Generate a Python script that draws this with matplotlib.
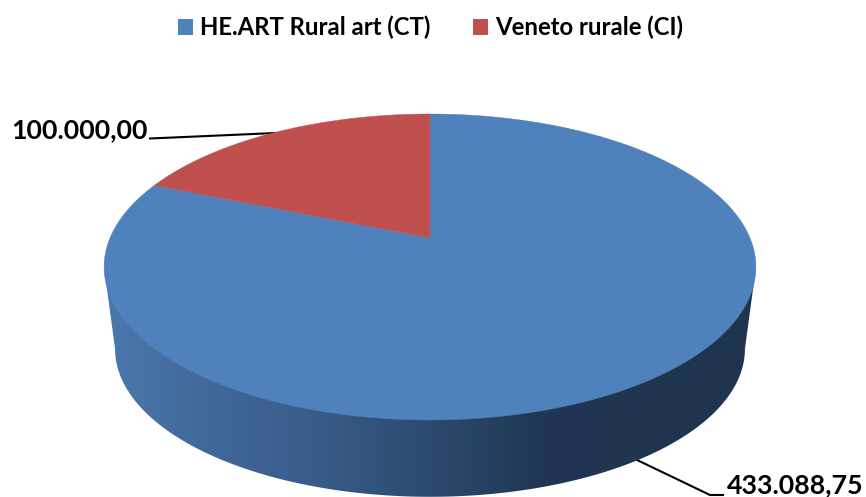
import numpy as np
import matplotlib
matplotlib.use('Agg')
import matplotlib.pyplot as plt
from matplotlib.colors import LinearSegmentedColormap
from matplotlib.patches import Patch, Polygon

categories = ['HE.ART Rural art (CT)', 'Veneto rurale (CI)']
values = [433088.75, 100000.00]
value_labels = ['433.088,75', '100.000,00']
colors = ['#4f81bd', '#c0504d']

# pie geometry in pixels (axes run in image coordinates)
CX, CY = 430, 267
RX, RY = 326, 153
DEPTH = 82
SHRINK = 0.966
K = 0.1895   # perspective, moves the pie centre above the ellipse centre


def project(theta):
    u, v = np.cos(theta), np.sin(theta)
    den = 1 + K * v
    return CX + 320 * u / den, CY - (RY * v + 29) / den


plt.rcParams['font.family'] = ['Lato', 'DejaVu Sans']

fig = plt.figure(figsize=(8.66, 4.97), dpi=100)
ax = fig.add_axes([0, 0, 1, 1])
ax.axis('off')

# side wall
t = np.linspace(0, np.pi, 200)
wall_x = np.r_[CX + RX * np.cos(t), CX + RX * SHRINK * np.cos(t[::-1])]
wall_y = np.r_[CY + RY * np.sin(t) * 0, CY + DEPTH + RY * SHRINK * np.sin(t[::-1])]
wall = Polygon(np.c_[wall_x, wall_y], closed=True, fc='none', ec='none')
ax.add_patch(wall)
stops = [(0, '#4a79ad'), (0.15, '#42699a'), (0.3, '#3a5e8c'), (0.5, '#2c4a6e'),
         (0.68, '#203652'), (1, '#1f344e')]
shade = LinearSegmentedColormap.from_list('wall', stops)
img = ax.imshow(np.linspace(0, 1, 256)[None, :], cmap=shade, aspect='auto',
                extent=(105, 755, 497, 260), zorder=2)
img.set_clip_path(wall)
ax.set_xlim(0, 866)
ax.set_ylim(497, 0)

# top face from the values, clockwise from 12 o'clock
fractions = np.array(values) / sum(values)
start = np.pi / 2
for frac, col in zip(fractions, colors):
    th = np.linspace(start, start - frac * 2 * np.pi, 300)
    x, y = project(th)
    ax.fill(np.r_[CX, x], np.r_[CY - 29, y], color=col, lw=0.3, zorder=3)
    start -= frac * 2 * np.pi

# leader lines and labels
ax.plot([150, 276], [138.5, 133], color='black', lw=1.5, zorder=1)
ax.plot([635, 710, 723], [459, 495, 495], color='black', lw=1.5, zorder=1)
ax.text(11, 130, value_labels[1], fontsize=19.3, fontweight='bold', va='center', ha='left')
ax.text(727, 485, value_labels[0], fontsize=19.3, fontweight='bold', va='center', ha='left')

handles = [Patch(facecolor=c, edgecolor='none') for c in colors]
ax.legend(handles, categories, loc='upper center', bbox_to_anchor=(0.497, 1.012), ncols=2,
          frameon=False, prop={'size': 17.2, 'weight': 'bold'}, handlelength=0.64, handleheight=0.64,
          handletextpad=0.3, columnspacing=1.76)

plt.savefig('out.png', dpi=100)
plt.close()
